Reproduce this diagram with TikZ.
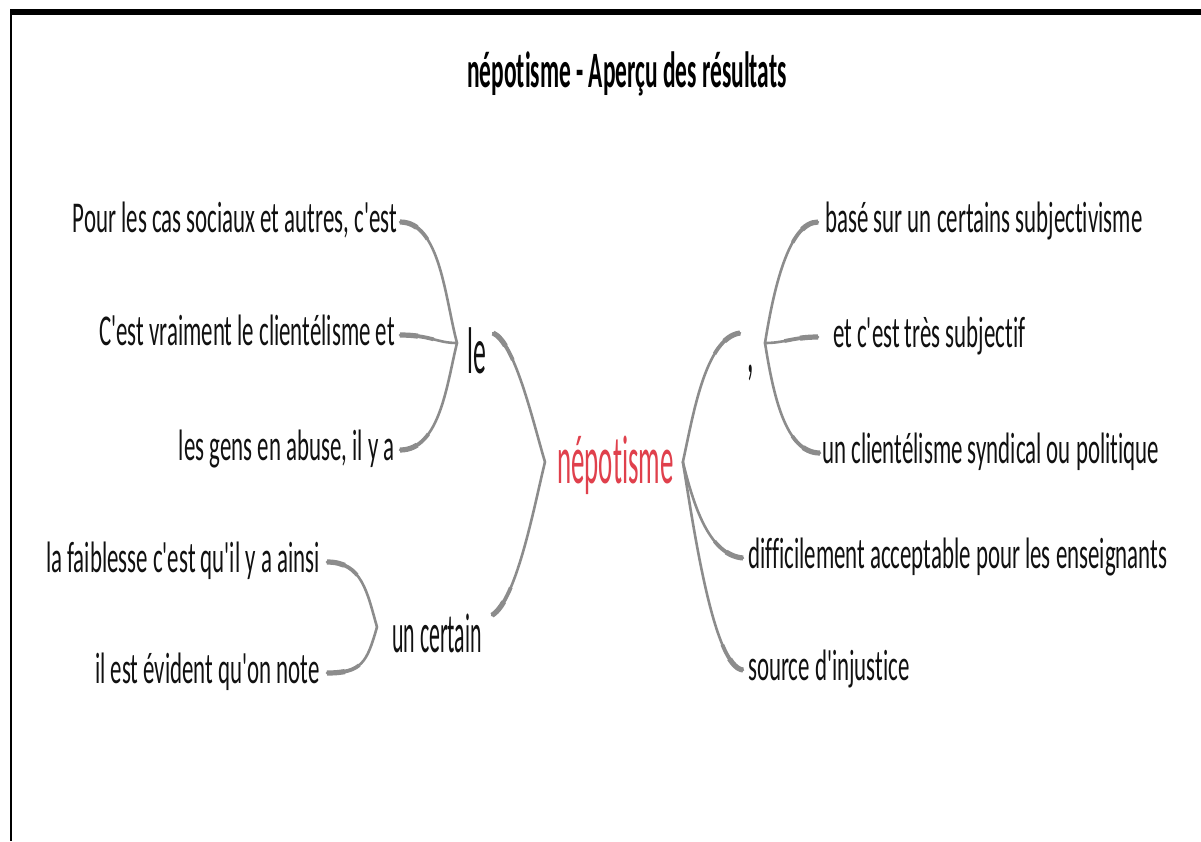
\documentclass[tikz,border=0pt]{standalone}
\usepackage{fontspec}
\newfontfamily\leaffont{Carlito}[FakeStretch=0.52, Ligatures=NoCommon]
\newfontfamily\hubfont{Carlito}[FakeStretch=0.39, Ligatures=NoCommon]
\newfontfamily\titlefont{Carlito}[FakeStretch=0.46, Ligatures=NoCommon]
\definecolor{twiggrey}{HTML}{8C8C8C}
\definecolor{hotred}{HTML}{E0404C}
\definecolor{ink}{HTML}{111111}

\tikzset{
  leaf/.style={inner sep=0pt, text=ink, font=\leaffont\fontsize{44}{50}\selectfont,
               text height=30pt, text depth=9pt},
  hub/.style={inner sep=0pt, text=ink, anchor=base west},
  twig/.style={draw=twiggrey, line width=2.6pt, line cap=round},
  twigmid/.style={draw=twiggrey, line width=3.8pt, line cap=butt, dash pattern=on 34pt off 3000pt},
  twigfat/.style={draw=twiggrey, line width=5.2pt, line cap=butt, dash pattern=on 18pt off 3000pt},
}
% a branch that is thick at the child end (#1) and thin at the parent end (#4)
\newcommand\twig[4]{%
  \draw[twig] (#1) .. controls #2 and #3 .. (#4);
  \draw[twigmid] (#1) .. controls #2 and #3 .. (#4);
  \draw[twigfat] (#1) .. controls #2 and #3 .. (#4);}

\begin{document}
\begin{tikzpicture}[x=1pt, y=-1pt]
\useasboundingbox (0,0) rectangle (1201,841);
\fill[white] (0,0) rectangle (1201,841);

% frame
\fill[black] (10,9) rectangle (1201,15);
\draw[black, line width=2.5pt] (11,9) -- (11,841);

% title
\node[inner sep=0pt, anchor=base, font=\titlefont\bfseries\fontsize{51}{58}\selectfont] (title) at (627,87)
  {népotisme - Aperçu des résultats};

% central node and hubs
\node[hub, text=hotred, font=\hubfont\fontsize{69}{80}\selectfont] (nepo) at (557,483) {népotisme};
\node[hub, font=\hubfont\fontsize{66}{76}\selectfont] (le) at (467,373) {le};
\node[hub, font=\hubfont\fontsize{56}{66}\selectfont] (uncertain) at (392,652) {un certain};
\node[hub, font=\hubfont\fontsize{66}{76}\selectfont] (comma) at (747,372) {,};

% left leaves
\node[leaf, anchor=east] (pour) at (397,222) {Pour les cas sociaux et autres, c'est};
\node[leaf, anchor=east] (cest) at (395,335) {C'est vraiment le clientélisme et};
\node[leaf, anchor=east] (gens) at (395,450) {les gens en abuse, il y a};
\node[leaf, anchor=east] (faible) at (320,562) {la faiblesse c'est qu'il y a ainsi};
\node[leaf, anchor=east] (evident) at (320,673) {il est évident qu'on note};

% right leaves
\node[leaf, anchor=west] (base) at (825,222) {basé sur un certains subjectivisme};
\node[leaf, anchor=west] (tres) at (833,337) {et c'est très subjectif};
\node[leaf, anchor=west] (client) at (822,453) {un clientélisme syndical ou politique};
\node[leaf, anchor=west] (diffi) at (748,558) {difficilement acceptable pour les enseignants};
\node[leaf, anchor=west] (source) at (748,670) {source d'injustice};

% junctions
\coordinate (Jle) at (457,343);
\coordinate (Juc) at (377,627);
\coordinate (JnL) at ([xshift=-12pt,yshift=21pt]nepo.base west);
\coordinate (JnR) at ([xshift=9pt,yshift=21pt]nepo.base east);
\coordinate (Jh2) at (765,343);
\coordinate (h2in) at (740,333);
\coordinate (leout) at ([xshift=7pt,yshift=-6pt]le.north east);
\coordinate (ucout) at ([xshift=10pt,yshift=-2pt]uncertain.north east);

% left branches
\twig{[xshift=3pt]pour.east}{+(40,0)}{+(-12,-45)}{Jle}
\twig{[xshift=5pt]cest.east}{+(30,0)}{+(-20,0)}{Jle}
\twig{[xshift=5pt]gens.east}{+(40,0)}{+(-10,40)}{Jle}
\twig{leout}{+(22,10)}{+(-12,-40)}{JnL}
\twig{ucout}{+(25,-15)}{+(-10,40)}{JnL}
\twig{[xshift=7pt]faible.east}{+(35,0)}{+(-10,-35)}{Juc}
\twig{[xshift=7pt]evident.east}{+(35,0)}{+(-10,35)}{Juc}

% right branches
\twig{h2in}{+(-35,5)}{+(10,-45)}{JnR}
\twig{[xshift=-7pt]base.west}{+(-30,0)}{+(8,-50)}{Jh2}
\twig{[xshift=-15pt]tres.west}{+(-25,0)}{+(20,0)}{Jh2}
\twig{[xshift=-2pt]client.west}{+(-35,0)}{+(8,50)}{Jh2}
\twig{[xshift=-5pt]diffi.west}{+(-35,-3)}{+(10,40)}{JnR}
\twig{[xshift=-5pt]source.west}{+(-30,-3)}{+(10,60)}{JnR}
\end{tikzpicture}
\end{document}
